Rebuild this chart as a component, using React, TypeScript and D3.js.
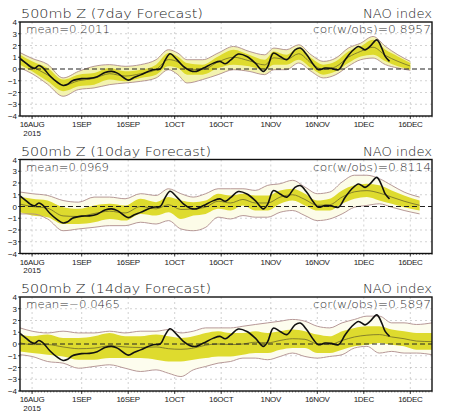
import React from "react";
import * as d3 from "d3";

// ---------- data ----------
const panelTitles = ["500mb Z (7day Forecast)", "500mb Z (10day Forecast)", "500mb Z (14day Forecast)"];
const meanLabels = ["mean=0.2011", "mean=0.0969", "mean=\u22120.0465"];
const corLabels = ["cor(w/obs)=0.8957", "cor(w/obs)=0.8114", "cor(w/obs)=0.5897"];

// days are counted from 16 Aug 2015
const tickDates = ["2015-08-16", "2015-09-01", "2015-09-16", "2015-10-01", "2015-10-16", "2015-11-01", "2015-11-16", "2015-12-01", "2015-12-16"];
const tickLabels = ["16AUG", "1SEP", "16SEP", "1OCT", "16OCT", "1NOV", "16NOV", "1DEC", "16DEC"];
const yTicks = [-4, -3, -2, -1, 0, 1, 2, 3, 4];

const obsDays = [-3.9, -2, -0.6, 0.8, 2.2, 3.5, 5.8, 8, 10, 11.5, 13, 16, 18.5, 21, 23.5, 25.7, 27.5, 31, 33, 35, 39, 41.3, 43, 44.5, 46.7, 48.8, 51, 53, 55.3, 58.5, 60.6, 62.3, 64, 66.5, 69.3, 72, 74.6, 76, 77.8, 80, 82.2, 84.8, 86.5, 88.6, 90.8, 92.3, 94.5, 96.5, 98.8, 101, 103.1, 105.3, 107.4, 109, 111.2, 112.8, 113.9, 115.3];
const obsVals = [0.9, 0.5, 0.2, 0.05, 0.3, 0.1, -0.6, -1.1, -1.4, -1.3, -1.0, -0.82, -0.8, -0.65, -0.3, -0.2, -0.35, -0.95, -0.7, -0.5, -0.06, 0.0, 0.8, 1.3, 0.8, 0.22, -0.14, -0.2, 0.08, 0.5, 0.65, 0.45, 0.75, 1.27, 1.07, 0.5, -0.2, 0.2, 1.35, 1.07, 0.8, 1.63, 1.78, 1.21, 0.36, -0.06, 0.08, 0.05, -0.06, 0.79, 1.49, 1.92, 1.63, 1.92, 2.48, 1.78, 1.07, 0.65];

// 7-day forecast
const p7Days = [-3.9, 0, 5, 10, 15, 20, 25, 30, 35, 40, 44, 47, 50, 55, 60, 65, 70, 75, 78, 82, 86, 90, 94, 98, 102, 106, 110, 114, 118, 122];
const p7Max = [1.4, 0.9, 0.4, -0.76, -0.2, 0.23, 0.37, 0.23, 0.37, 0.79, 1.64, 1.36, 0.79, 0.79, 1.36, 1.92, 1.5, 1.21, 1.78, 1.64, 2.06, 1.21, 0.65, 0.93, 1.78, 2.2, 2.77, 1.92, 1.21, 0.65];
const p7Hi = [1.21, 0.65, 0.08, -0.9, -0.48, -0.34, 0.08, -0.2, -0.06, 0.37, 1.36, 1.07, 0.51, 0.37, 1.07, 1.64, 1.21, 0.79, 1.5, 1.21, 1.78, 0.93, 0.37, 0.65, 1.5, 1.92, 2.49, 1.64, 1.07, 0.51];
const p7Mean = [0.8, 0.2, -0.5, -1.4, -1.0, -0.8, -0.4, -0.6, -0.4, -0.05, 0.8, 0.6, 0.0, -0.05, 0.6, 1.0, 0.7, 0.35, 0.95, 0.8, 1.3, 0.5, -0.05, 0.2, 1.0, 1.5, 1.85, 1.15, 0.65, 0.25];
const p7Lo = [0.37, -0.2, -1.05, -1.89, -1.47, -1.33, -0.9, -1.05, -0.76, -0.48, 0.23, 0.08, -0.48, -0.48, 0.08, 0.37, 0.23, -0.06, 0.37, 0.37, 0.79, 0.08, -0.48, -0.2, 0.51, 1.07, 1.21, 0.65, 0.23, -0.06];
const p7Min = [0.1, -0.4, -1.3, -2.32, -1.75, -1.61, -1.33, -1.19, -1.05, -0.76, -0.06, -0.48, -1.19, -0.9, -0.48, -0.06, -0.2, -0.48, -0.06, -0.06, 0.51, -0.2, -0.76, -0.48, 0.23, 0.79, 0.93, 0.37, 0.08, -0.11];

// 10-day forecast
const p10Days = [-3.9, 0, 5, 10, 15, 20, 25, 30, 35, 40, 44, 48, 52, 56, 60, 64, 68, 72, 76, 80, 84, 88, 92, 96, 100, 104, 108, 112, 116, 120, 125];
const p10Max = [1.23, 1.09, 0.94, 0.51, 0.37, 0.8, 0.8, 0.66, 1.09, 0.94, 1.51, 1.09, 0.8, 1.09, 1.51, 1.51, 1.51, 1.37, 1.8, 1.94, 2.23, 1.66, 1.09, 1.23, 2.09, 2.66, 2.66, 2.37, 1.8, 1.23, 0.8];
const p10Hi = [0.8, 0.66, 0.51, -0.06, -0.2, 0.09, 0.23, 0.09, 0.66, 0.37, 0.8, 0.51, 0.37, 0.51, 1.09, 0.94, 1.09, 0.94, 0.94, 1.37, 1.51, 1.09, 0.51, 0.66, 1.37, 1.8, 1.94, 1.8, 1.37, 0.94, 0.51];
const p10Mean = [0.2, 0.0, -0.15, -0.8, -0.85, -0.6, -0.4, -0.55, 0.0, -0.2, 0.15, -0.25, -0.2, -0.05, 0.45, 0.3, 0.6, 0.3, 0.3, 0.8, 1.0, 0.6, 0.1, 0.15, 0.8, 1.25, 1.35, 1.15, 0.8, 0.45, 0.1];
const p10Lo = [-0.49, -0.77, -0.91, -1.49, -1.49, -1.34, -1.06, -1.2, -0.63, -0.77, -0.49, -1.06, -0.77, -0.63, -0.2, -0.34, 0.09, -0.34, -0.34, 0.23, 0.51, 0.09, -0.34, -0.34, 0.23, 0.66, 0.8, 0.51, 0.23, -0.06, -0.34];
const p10Min = [-0.63, -0.63, -1.06, -2.06, -1.91, -1.77, -1.63, -1.63, -1.34, -1.49, -1.2, -1.91, -2.06, -1.77, -0.91, -1.06, -0.77, -0.91, -0.91, -0.49, -0.34, -0.77, -1.2, -1.06, -0.63, -0.06, 0.09, 0.23, -0.06, -0.34, -0.63];

// 14-day forecast
const p14Days = [-3.9, 0, 5, 10, 15, 20, 25, 30, 35, 40, 44, 48, 52, 56, 60, 64, 68, 72, 76, 80, 84, 88, 92, 96, 100, 104, 108, 112, 116, 120, 124, 129];
const p14Max = [1.37, 1.09, 0.94, 1.09, 0.94, 0.94, 1.09, 0.94, 1.09, 1.09, 1.23, 0.94, 1.09, 1.37, 1.37, 1.37, 1.51, 1.66, 1.8, 1.94, 2.09, 1.94, 1.51, 1.37, 1.8, 2.09, 2.37, 2.37, 1.8, 1.8, 1.66, 1.8];
const p14Hi = [0.8, 0.66, 0.8, 0.51, 0.51, 0.66, 0.94, 0.66, 0.66, 0.8, 0.66, 0.51, 0.66, 0.94, 1.09, 0.94, 0.94, 1.09, 0.94, 1.09, 1.23, 1.09, 0.8, 0.66, 1.09, 1.37, 1.51, 1.51, 1.23, 1.09, 0.94, 0.94];
const p14Mean = [0.1, -0.05, -0.05, -0.25, -0.4, -0.35, -0.15, -0.25, -0.3, -0.25, -0.4, -0.45, -0.35, -0.1, 0.0, -0.05, 0.0, 0.15, 0.1, 0.3, 0.45, 0.4, 0.0, -0.05, 0.3, 0.6, 0.75, 0.8, 0.6, 0.45, 0.25, 0.2];
const p14Lo = [-0.63, -0.77, -0.91, -1.06, -1.34, -1.34, -1.2, -1.2, -1.2, -1.34, -1.49, -1.49, -1.34, -1.2, -1.06, -1.06, -0.91, -0.77, -0.77, -0.49, -0.34, -0.34, -0.77, -0.77, -0.49, -0.2, -0.06, 0.09, -0.06, -0.2, -0.49, -0.49];
const p14Min = [-0.91, -1.06, -1.49, -1.63, -2.06, -1.91, -1.77, -2.06, -2.34, -2.2, -2.49, -2.77, -2.2, -1.91, -1.63, -1.49, -1.2, -1.2, -1.34, -1.06, -0.77, -1.06, -1.2, -1.06, -0.91, -0.34, -0.2, -0.77, -0.63, -0.77, -0.77, -0.91];

// ---------- layout ----------
const W = 450;
const H = 413;
const LEFT = 20;
const RIGHT = 432;
const PANEL_TOPS = [22, 159.5, 297];
const PANEL_H = 94;
const FONT = "'Liberation Sans', Arial, sans-serif";
const TITLE_FONT = "'DejaVu Sans', 'Liberation Sans', sans-serif";
const MEAN_WIDTHS = [84, 83, 94];

const panels = [
  { days: p7Days, max: p7Max, hi: p7Hi, mean: p7Mean, lo: p7Lo, min: p7Min, pale: "#f3f3b0" },
  { days: p10Days, max: p10Max, hi: p10Hi, mean: p10Mean, lo: p10Lo, min: p10Min, pale: "#fcfce8" },
  { days: p14Days, max: p14Max, hi: p14Hi, mean: p14Mean, lo: p14Lo, min: p14Min, pale: "#fdfdee" },
];

const base = Date.UTC(2015, 7, 16);
const tickDays = tickDates.map((s) => (Date.parse(s + "T00:00:00Z") - base) / 86400000);

function Panel({ idx }: { idx: number }) {
  const p = panels[idx];
  const top = PANEL_TOPS[idx];
  const bottom = top + PANEL_H;
  const x = d3.scaleLinear().domain([-3.9, 129]).range([LEFT, RIGHT]);
  const y = d3.scaleLinear().domain([-4, 4]).range([bottom, top]);
  const curve = d3.curveMonotoneX;

  const band = (lo: number[], hi: number[]) =>
    d3
      .area<number>()
      .x((d) => x(d))
      .y0((_, i) => y(lo[i]))
      .y1((_, i) => y(hi[i]))
      .curve(curve)(p.days) || "";
  const line = (vals: number[], days: number[], c = curve) =>
    d3
      .line<number>()
      .x((d) => x(d))
      .y((_, i) => y(vals[i]))
      .curve(c)(days) || "";

  const clipId = `clip${idx}`;
  const minor = d3.range(-3, 130);

  return (
    <g>
      <defs>
        <clipPath id={clipId}>
          <rect x={LEFT} y={top} width={RIGHT - LEFT} height={PANEL_H} />
        </clipPath>
      </defs>
      {/* grid */}
      {yTicks
        .filter((t) => t !== 0 && t !== 4 && t !== -4)
        .map((t) => (
          <line key={"gy" + t} x1={LEFT} x2={RIGHT} y1={y(t)} y2={y(t)} stroke="#b4b4b4" strokeWidth={0.6} strokeDasharray="2,3" />
        ))}
      {tickDays.map((d, i) => (
        <line key={"gx" + i} x1={x(d)} x2={x(d)} y1={top} y2={bottom} stroke="#b4b4b4" strokeWidth={0.6} strokeDasharray="2,3" />
      ))}
      <g clipPath={`url(#${clipId})`}>
        <path d={band(p.min, p.max)} fill={p.pale} />
        <path d={band(p.lo, p.hi)} fill="#dedb2e" />
        <path d={line(p.max, p.days)} fill="none" stroke="#ae8c8c" strokeWidth={0.9} />
        <path d={line(p.min, p.days)} fill="none" stroke="#ae8c8c" strokeWidth={0.9} />
        <path d={line(p.mean, p.days)} fill="none" stroke="#6e6a2a" strokeWidth={0.8} />
        <line x1={LEFT} x2={RIGHT} y1={y(0)} y2={y(0)} stroke="#222" strokeWidth={1} strokeDasharray="5,3" />
        <path d={line(obsVals, obsDays, d3.curveCatmullRom)} fill="none" stroke="#111" strokeWidth={1.6} />
      </g>
      {/* frame */}
      <rect x={LEFT} y={top} width={RIGHT - LEFT} height={PANEL_H} fill="none" stroke="#111" strokeWidth={1.4} />
      {/* y axis */}
      {yTicks.map((t) => (
        <g key={"yt" + t}>
          <line x1={LEFT - 2} x2={LEFT} y1={y(t)} y2={y(t)} stroke="#111" strokeWidth={0.8} />
          <text x={LEFT - 3} y={y(t) + 3} fontSize={8} textAnchor="end" fill="#222" fontFamily={FONT}>
            {t < 0 ? "\u2212" + Math.abs(t) : String(t)}
          </text>
        </g>
      ))}
      {/* x axis */}
      {minor.map((d) => (
        <line key={"mn" + d} x1={x(d)} x2={x(d)} y1={bottom} y2={bottom + 1.5} stroke="#111" strokeWidth={0.5} />
      ))}
      {tickDays.map((d, i) => (
        <g key={"xt" + i}>
          <line x1={x(d)} x2={x(d)} y1={bottom} y2={bottom + 3} stroke="#111" strokeWidth={0.8} />
          <text x={x(d)} y={bottom + 11} fontSize={8} textAnchor="middle" fill="#222" fontFamily={FONT} letterSpacing={-0.3}>
            {tickLabels[i]}
          </text>
        </g>
      ))}
      <text x={x(tickDays[0])} y={bottom + 19.5} fontSize={8} textAnchor="middle" fill="#222" fontFamily={FONT}>
        2015
      </text>
      {/* titles */}
      <text x={21} y={top - 4} fontSize={13} fontWeight={200} fill="#222" fontFamily={TITLE_FONT} textLength={idx === 0 ? 182 : 190} lengthAdjust="spacingAndGlyphs">
        {panelTitles[idx]}
      </text>
      <text x={RIGHT} y={top - 4} fontSize={13} fontWeight={200} fill="#222" fontFamily={TITLE_FONT} textAnchor="end" textLength={69} lengthAdjust="spacingAndGlyphs">
        NAO index
      </text>
      <text x={26} y={top + 11} fontSize={10.5} fontWeight={200} fill="#333" fontFamily={TITLE_FONT} textLength={MEAN_WIDTHS[idx]} lengthAdjust="spacingAndGlyphs">
        {meanLabels[idx]}
      </text>
      <text x={RIGHT - 1} y={top + 11} fontSize={10.5} fontWeight={200} fill="#333" fontFamily={TITLE_FONT} textAnchor="end" textLength={118} lengthAdjust="spacingAndGlyphs">
        {corLabels[idx]}
      </text>
    </g>
  );
}

export default function App() {
  return (
    <svg width={W} height={H} style={{ position: "absolute", left: 0, top: 0, background: "#fff" }}>
      <rect x={0} y={0} width={W} height={H} fill="#fff" />
      {panels.map((_, i) => (
        <Panel key={i} idx={i} />
      ))}
    </svg>
  );
}
